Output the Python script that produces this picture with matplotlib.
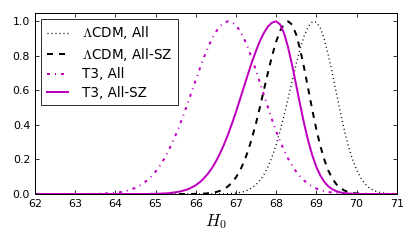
import numpy as np
import matplotlib
matplotlib.use('Agg')
import matplotlib.pyplot as plt

# H0 grid (62.0 ... 71.0, step 0.1)
h0 = np.round(np.arange(62.0, 71.05, 0.1), 1)

# normalised posteriors
lcdm_all = [
    0, 0, 0, 0, 0, 0, 0, 0, 0, 0,                      # 62.0-62.9
    0, 0, 0, 0, 0, 0, 0, 0, 0, 0,                      # 63.0-63.9
    0, 0, 0, 0, 0, 0, 0, 0, 0, 0,                      # 64.0-64.9
    0, 0, 0, 0, 0, 0, 0, 0, 0, 0,                      # 65.0-65.9
    0, 0, 0, 0, 0, 0, 0, 0, 0.002, 0.003,              # 66.0-66.9
    0.005, 0.009, 0.014, 0.023, 0.036, 0.054, 0.080, 0.114, 0.159, 0.216,
    0.286, 0.367, 0.458, 0.556, 0.657, 0.755, 0.844, 0.917, 0.969, 0.997,
    0.996, 0.961, 0.895, 0.804, 0.698, 0.584, 0.471, 0.367, 0.276, 0.201,
    0.141, 0.095, 0.062, 0.039, 0.024, 0.014, 0.008, 0.004, 0.002, 0.001,
    0,
]
lcdm_allsz = [
    0, 0, 0, 0, 0, 0, 0, 0, 0, 0,
    0, 0, 0, 0, 0, 0, 0, 0, 0, 0,
    0, 0, 0, 0, 0, 0, 0, 0, 0, 0,
    0, 0, 0, 0, 0, 0, 0, 0, 0, 0,
    0.001, 0.001, 0.002, 0.004, 0.007, 0.011, 0.018, 0.029, 0.044, 0.066,
    0.096, 0.135, 0.186, 0.249, 0.325, 0.411, 0.506, 0.607, 0.707, 0.801,
    0.882, 0.946, 0.986, 1.000, 0.980, 0.923, 0.835, 0.726, 0.607, 0.487,
    0.375, 0.278, 0.198, 0.135, 0.089, 0.056, 0.034, 0.020, 0.011, 0.006,
    0.003, 0.002, 0.001, 0, 0, 0, 0, 0, 0, 0,
    0,
]
t3_all = [
    0, 0, 0, 0, 0, 0, 0, 0, 0, 0,
    0, 0, 0, 0, 0, 0.001, 0.002, 0.002, 0.004, 0.005,
    0.007, 0.010, 0.014, 0.020, 0.027, 0.036, 0.048, 0.062, 0.081, 0.103,
    0.129, 0.161, 0.198, 0.240, 0.288, 0.341, 0.399, 0.461, 0.526, 0.593,
    0.660, 0.726, 0.789, 0.846, 0.897, 0.939, 0.971, 0.991, 1.000, 0.995,
    0.977, 0.945, 0.901, 0.846, 0.783, 0.715, 0.643, 0.570, 0.498, 0.429,
    0.364, 0.305, 0.251, 0.204, 0.163, 0.129, 0.100, 0.077, 0.058, 0.043,
    0.032, 0.023, 0.016, 0.012, 0.008, 0.005, 0.004, 0.002, 0.002, 0.001,
    0.001, 0, 0, 0, 0, 0, 0, 0, 0, 0,
    0,
]
t3_allsz = [
    0, 0, 0, 0, 0, 0, 0, 0, 0, 0,
    0, 0, 0, 0, 0, 0, 0, 0, 0, 0,
    0, 0, 0, 0, 0, 0, 0, 0, 0, 0.001,
    0.001, 0.002, 0.003, 0.004, 0.007, 0.010, 0.014, 0.020, 0.027, 0.038,
    0.051, 0.068, 0.090, 0.117, 0.149, 0.188, 0.233, 0.285, 0.343, 0.407,
    0.475, 0.548, 0.621, 0.695, 0.765, 0.830, 0.888, 0.935, 0.971, 0.993,
    1.000, 0.982, 0.929, 0.847, 0.744, 0.630, 0.514, 0.404, 0.306, 0.224,
    0.157, 0.107, 0.070, 0.044, 0.027, 0.016, 0.009, 0.005, 0.003, 0.001,
    0.001, 0, 0, 0, 0, 0, 0, 0, 0, 0,
    0,
]

labels = [r'$\Lambda$CDM, All', r'$\Lambda$CDM, All-SZ', 'T3, All', 'T3, All-SZ']
xticks = [62, 63, 64, 65, 66, 67, 68, 69, 70, 71]
yticks = [0.0, 0.2, 0.4, 0.6, 0.8, 1.0]

plt.rcParams['lines.scale_dashes'] = False
plt.rcParams['mathtext.fontset'] = 'cm'

fig = plt.figure(figsize=(415 / 72, 249 / 72), dpi=72)
ax = fig.add_axes([35 / 415, 55 / 249, 361.7 / 415, 181.3 / 249])

ax.plot(h0, lcdm_all, color='k', lw=1.4, linestyle=(0, (1, 3)), label=labels[0])
ax.plot(h0, lcdm_allsz, color='k', lw=2, linestyle=(0, (6, 6)), label=labels[1])
ax.plot(h0, t3_all, color='m', lw=2, linestyle=(0, (3, 5, 1, 5)), label=labels[2])
ax.plot(h0, t3_allsz, color='m', lw=2, linestyle='-', label=labels[3])

ax.set_xlim(62, 71)
ax.set_ylim(0, 1.05)
ax.set_xticks(xticks)
ax.set_yticks(yticks)
ax.set_yticklabels(['%.1f' % v for v in yticks])
ax.tick_params(direction='in', top=True, right=True, length=4, width=0.8,
               labelsize=11, pad=5)
for s in ax.spines.values():
    s.set_linewidth(1)
ax.set_xlabel(r'$H_0$', fontsize=17, labelpad=3)

leg = ax.legend(loc='upper left', fontsize=13.5, fancybox=False, handlelength=1.6,
                handletextpad=1.0, borderpad=0.42, labelspacing=0.33,
                borderaxespad=0.45)
leg.get_frame().set_edgecolor('k')
leg.get_frame().set_linewidth(1)

fig.savefig('out.png', dpi=72, facecolor='white')
